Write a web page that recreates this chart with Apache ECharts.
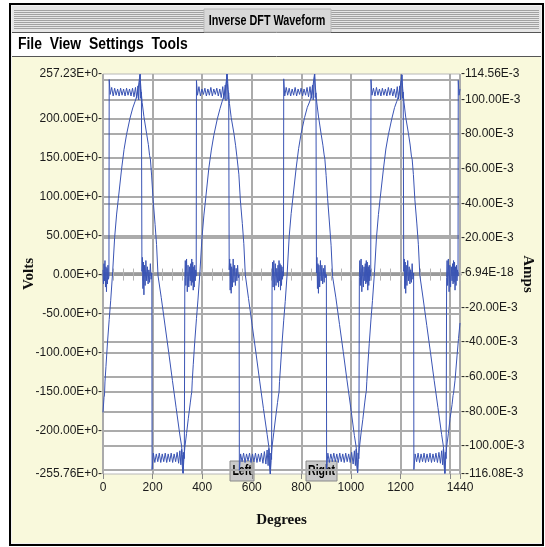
<!DOCTYPE html>
<html>
<head>
<meta charset="utf-8">
<title>Inverse DFT Waveform</title>
<script src="https://cdn.jsdelivr.net/npm/echarts@6/dist/echarts.min.js"></script>
<style>
	html,body{margin:0;padding:0;background:#fff;}
	#chart{width:545px;height:547px;}
</style>
</head>
<body>
<div id="chart"></div>
<script>
// axis ranges and tick labels
var voltsMin = -255.76, voltsMax = 257.23;
var ampsMin = -116.08, ampsMax = 114.56;   // mA
var voltsLabels = [-255.76, -200, -150, -100, -50, 0, 50, 100, 150, 200, 257.23];
var voltsGrid = [-250, -200, -150, -100, -50, 0, 50, 100, 150, 200, 250];
var ampsLabels = [-116.08, -100, -80, -60, -40, -20, 0, 20, 40, 60, 80, 100, 114.56];
var ampsGrid = [-100, -80, -60, -40, -20, 0, 20, 40, 60, 80, 100];
var degLabels = [0, 200, 400, 600, 800, 1000, 1200, 1440];
var degTicks = [0, 200, 400, 600, 800, 1000, 1200, 1400, 1440];

// voltage trace [degrees, volts], one array per cycle
var volts1 = [[0,6],[2,-12],[4,14],[6,-8],[8,18],[10,-16],[12,10],[14,-22],[16,8],[18,-12],[20,12],[22,-6],[24,-2],[25,250],[29,231],[35,240],[41,229],[47,239],[53,230],[59,238],[65,229],[71,239],[77,230],[83,238],[89,229],[95,239],[101,230],[107,238],[113,229],[119,239],[125,228],[131,240],[136,226],[141,242],[144,224],[147,246],[150,257],[152,226],[155,234],[157,4],[159,22],[161,-18],[163,16],[165,-26],[167,12],[170,-14],[173,18],[176,-8],[179,10],[182,-12],[185,6],[188,-10],[191,14],[194,-6],[197,2],[198,-250],[203,-229],[209,-241],[215,-230],[221,-240],[227,-229],[233,-241],[239,-230],[245,-240],[251,-229],[257,-241],[263,-230],[269,-240],[275,-229],[281,-241],[287,-230],[293,-240],[299,-228],[305,-242],[310,-226],[314,-244],[317,-224],[320,-246],[323,-255],[325,-228],[328,-236],[330,-4],[332,18],[334,-14],[337,20],[340,-22],[343,12],[346,-16],[349,10]];
var volts2 = [[352,-8],[354,14],[356,-14],[358,20],[360,-10],[362,16],[364,-20],[366,10],[368,-16],[370,12],[372,-8],[374,6],[376,-2],[377,249],[381,230],[387,241],[393,229],[399,238],[405,231],[411,239],[417,229],[423,238],[429,230],[435,240],[441,229],[447,238],[453,231],[459,239],[465,229],[471,238],[477,227],[483,241],[488,225],[493,243],[496,223],[499,257],[502,245],[504,225],[507,233],[509,6],[511,20],[513,-20],[515,14],[517,-24],[519,10],[522,-16],[525,20],[528,-10],[531,12],[534,-14],[537,8],[540,-8],[543,12],[546,-4],[549,0],[550,-251],[555,-230],[561,-240],[567,-229],[573,-241],[579,-230],[585,-239],[591,-229],[597,-241],[603,-230],[609,-240],[615,-229],[621,-241],[627,-230],[633,-240],[639,-229],[645,-242],[651,-227],[657,-243],[662,-225],[666,-245],[669,-223],[672,-247],[675,-255.76],[677,-229],[680,-237],[682,-6],[684,16],[686,-16],[689,18],[692,-20],[695,14],[698,-14],[701,8]];
var volts3 = [[704,-10],[706,12],[708,-16],[710,18],[712,-8],[714,14],[716,-20],[718,12],[720,-14],[722,10],[724,-6],[726,4],[728,-2],[729,251],[733,229],[739,240],[745,230],[751,239],[757,229],[763,238],[769,230],[775,240],[781,229],[787,238],[793,231],[799,239],[805,229],[811,238],[817,230],[823,240],[829,228],[835,241],[840,226],[845,243],[848,224],[851,247],[854,257.23],[856,227],[859,233],[861,2],[863,22],[865,-18],[867,14],[869,-24],[871,12],[874,-16],[877,18],[880,-8],[883,12],[886,-12],[889,8],[892,-10],[895,12],[898,-4],[901,0],[902,-249],[907,-229],[913,-241],[919,-230],[925,-240],[931,-229],[937,-240],[943,-230],[949,-241],[955,-229],[961,-240],[967,-230],[973,-241],[979,-229],[985,-240],[991,-230],[997,-241],[1003,-228],[1009,-243],[1014,-226],[1018,-245],[1021,-224],[1024,-247],[1027,-254],[1029,-229],[1032,-236],[1034,-4],[1036,18],[1038,-14],[1041,20],[1044,-22],[1047,12],[1050,-16],[1053,10]];
var volts4 = [[1056,-8],[1058,14],[1060,-12],[1062,18],[1064,-10],[1066,16],[1068,-20],[1070,10],[1072,-14],[1074,12],[1076,-8],[1078,6],[1080,-2],[1081,250],[1085,230],[1091,239],[1097,229],[1103,240],[1109,230],[1115,238],[1121,229],[1127,239],[1133,230],[1139,238],[1145,229],[1151,240],[1157,230],[1163,239],[1169,229],[1175,238],[1181,227],[1187,241],[1192,225],[1197,242],[1200,224],[1203,246],[1206,256],[1208,226],[1211,234],[1213,4],[1215,20],[1217,-18],[1219,16],[1221,-24],[1223,12],[1226,-14],[1229,18],[1232,-8],[1235,10],[1238,-12],[1241,6],[1244,-10],[1247,14],[1250,-6],[1253,2],[1254,-250],[1259,-230],[1265,-240],[1271,-229],[1277,-241],[1283,-230],[1289,-240],[1295,-229],[1301,-241],[1307,-230],[1313,-240],[1319,-229],[1325,-241],[1331,-230],[1337,-240],[1343,-229],[1349,-241],[1355,-228],[1361,-242],[1366,-226],[1370,-244],[1373,-224],[1376,-246],[1379,-255],[1381,-228],[1384,-236],[1386,-4],[1388,18],[1390,-14],[1393,20],[1396,-22],[1399,12],[1402,-16],[1405,10]];
var voltsTail = [[1408,-8],[1410,14],[1412,-12],[1414,18],[1416,-10],[1418,16],[1420,-20],[1422,10],[1424,-14],[1426,12],[1428,-8],[1430,6],[1432,-2],[1433,249],[1436,230],[1440,238]];

// current trace [degrees, mA], one array per cycle
var amps1 = [[0,-80.5],[4,-72.0],[6,-70.5],[8,-63.0],[12,-54.0],[18,-40.5],[25,-27.0],[31,-16.2],[39,0.5],[47,20.3],[55,33.8],[62,42.8],[75,59.9],[85,71.1],[95,79.7],[109,89.1],[120,95.0],[129,98.6],[136,101.7],[142,106.2],[149,114.3],[153,106.2],[158,98.1],[165,90.0],[176,80.1],[183,73.8],[188,67.5],[191,65.7],[196,56.3],[202,42.3],[210,27.9],[216,16.2],[222,-1.8],[235,-14.4],[250,-30.2],[265,-45.9],[280,-62.1],[295,-77.9],[310,-93.6],[317,-99.9],[320,-104.9],[323,-115.5],[326,-108.0],[330,-100.8],[337,-92.7],[344,-84.2]];
var amps2 = [[352,-75.1],[356,-70.6],[358,-68.9],[360,-62.4],[364,-53.1],[370,-40.0],[377,-26.5],[383,-15.8],[391,0.3],[399,19.6],[407,33.2],[414,42.5],[427,60.4],[437,70.7],[447,79.2],[461,88.6],[472,94.6],[481,98.9],[488,102.1],[494,106.8],[501,114.56],[505,105.8],[510,97.6],[517,89.5],[528,80.4],[535,73.2],[540,67.0],[543,65.9],[548,56.8],[554,41.9],[562,28.3],[568,16.7],[574,-1.2],[587,-14.9],[602,-30.6],[617,-46.3],[632,-62.5],[647,-78.2],[662,-93.2],[669,-100.4],[672,-105.3],[675,-116.08],[678,-108.4],[682,-100.2],[689,-92.1],[696,-83.8]];
var amps3 = [[704,-74.8],[708,-70.5],[710,-69.0],[712,-62.7],[716,-54.4],[722,-41.0],[729,-27.4],[735,-16.6],[743,-0.2],[751,20.8],[759,34.1],[766,43.2],[779,60.2],[789,71.5],[799,80.1],[813,89.4],[824,95.3],[833,98.4],[840,101.3],[846,106.6],[853,114.4],[857,106.5],[862,98.4],[869,90.3],[880,79.8],[887,73.5],[892,67.9],[895,65.4],[900,56.0],[906,42.7],[914,27.5],[920,15.8],[926,-2.2],[939,-14.1],[954,-29.8],[969,-45.5],[984,-61.8],[999,-77.5],[1014,-93.9],[1021,-100.3],[1024,-104.6],[1027,-115.2],[1030,-107.7],[1034,-101.2],[1041,-92.4],[1048,-84.6]];
var amps4 = [[1056,-74.6],[1060,-70.0],[1062,-68.6],[1064,-62.9],[1068,-53.8],[1074,-40.8],[1081,-26.8],[1087,-16.0],[1095,0.1],[1103,20.0],[1111,33.5],[1118,42.9],[1131,59.6],[1141,71.3],[1151,79.5],[1165,88.8],[1176,95.2],[1185,98.8],[1192,101.9],[1198,106.0],[1205,114.2],[1209,106.0],[1214,98.3],[1221,89.7],[1232,80.3],[1239,73.6],[1244,67.2],[1247,65.5],[1252,56.6],[1258,42.0],[1266,28.1],[1272,16.4],[1278,-1.5],[1291,-14.6],[1306,-30.4],[1321,-46.1],[1336,-62.3],[1351,-77.7],[1366,-93.4],[1373,-100.1],[1376,-105.1],[1379,-115.7],[1382,-108.2],[1386,-100.5],[1393,-92.9],[1400,-84.0]];
var ampsTail = [[1408,-76.0],[1412,-70.8],[1414,-69.5],[1420,-62.0],[1428,-48.0],[1434,-38.0],[1440,-29.0]];

var sans = "'Liberation Sans',Arial,sans-serif";
var serif = "'Liberation Serif','DejaVu Serif',serif";
var waveColor = '#3a54b4';
var gridColor = '#ababab';

var chart = echarts.init(document.getElementById('chart'), null, {renderer: 'canvas'});

// narrow text: the old UI font is condensed, so squeeze it sideways
function narrowText(x, y, text, font, align, sx) {
	return {type: 'text', x: x, y: y, scaleX: sx, style: {x: 0, y: 0, text: text, font: font, fill: '#000', align: align, verticalAlign: 'middle'}};
}

// window frame, title bar and menu bar
var chrome = [
	{type: 'rect', z: -10, shape: {x: 10, y: 4, width: 533, height: 541}, style: {fill: '#f2f2f2', stroke: '#000', lineWidth: 2}},
	{type: 'rect', z: -9, shape: {x: 12, y: 6, width: 529, height: 26}, style: {fill: '#e6e6e6'}},
	{type: 'rect', z: -9, shape: {x: 12, y: 33, width: 529, height: 23}, style: {fill: '#fff'}},
	{type: 'line', z: -8, shape: {x1: 12, y1: 32.5, x2: 541, y2: 32.5}, style: {stroke: '#555', lineWidth: 1}},
	{type: 'line', z: -8, shape: {x1: 12, y1: 56.5, x2: 541, y2: 56.5}, style: {stroke: '#555', lineWidth: 1}},
	{type: 'rect', z: -9, shape: {x: 12, y: 57, width: 529, height: 486}, style: {fill: '#f9f9dc'}}
];
for (var sy = 10; sy <= 29; sy += 2) {
	chrome.push({type: 'line', z: -8, shape: {x1: 14, y1: sy + 0.5, x2: 539, y2: sy + 0.5}, style: {stroke: '#a2a2a2', lineWidth: 1}});
}
chrome.push({type: 'rect', z: -7, shape: {x: 204, y: 9, width: 127, height: 23}, style: {fill: '#d8d8d8', stroke: '#bbb', lineWidth: 1}});
var title = narrowText(267, 21, 'Inverse DFT Waveform', 'bold 15px ' + sans, 'center', 0.72);
title.z = -6;
chrome.push(title);
var menu = narrowText(18, 45, 'File  View  Settings  Tools', 'bold 16px ' + sans, 'left', 0.87);
menu.z = -6;
chrome.push(menu);

// cursor buttons
function button(x, w, label) {
	return {type: 'group', z: 100, children: [
		{type: 'rect', shape: {x: x, y: 461, width: w, height: 20}, style: {fill: '#c9c9c9', stroke: '#8a8a8a', lineWidth: 1}},
		narrowText(x + w / 2, 471, label, 'bold 15px ' + sans, 'center', 0.7)
	]};
}
chrome.push(button(230, 24, 'Left'));
chrome.push(button(306, 31, 'Right'));

function fmtVolts(v) {
	return v.toFixed(2) + 'E+0-';
}
function fmtAmps(v) {
	if (v === 0) return '-6.94E-18';
	return '-' + v.toFixed(2) + 'E-3';
}
function fmtDeg(v) {
	return String(v);
}

var tickFont = {fontFamily: sans, fontSize: 12, color: '#1a1a1a'};
var nameFont = {fontFamily: serif, fontWeight: 'bold', fontSize: 15, color: '#111'};
var plot = {left: 103, right: 85, top: 74, bottom: 73};

// the zero line with its small ticks, one side per grid
function zeroAxis(grid, inside) {
	return {
		type: 'value', gridIndex: grid, min: 0, max: 1440, interval: 40, position: 'bottom',
		axisLine: {show: true, onZero: true, lineStyle: {color: '#9a9a9a', width: 3}},
		axisTick: {show: true, inside: inside, length: 6, lineStyle: {color: '#b4b4b4', width: 1}},
		axisLabel: {show: false},
		splitLine: {show: false}
	};
}

chart.setOption({
	backgroundColor: '#fff',
	animation: false,
	graphic: {elements: chrome},
	grid: [
		{left: plot.left, right: plot.right, top: plot.top, bottom: plot.bottom, show: true, backgroundColor: '#fff', borderColor: '#b8b8b8', borderWidth: 1},
		{left: plot.left, right: plot.right, top: plot.top, bottom: plot.bottom},
		{left: plot.left, right: plot.right, top: plot.top, bottom: plot.bottom}
	],
	xAxis: [
		{
			type: 'value', gridIndex: 0, min: 0, max: 1440, position: 'bottom',
			name: 'Degrees', nameLocation: 'middle', nameGap: 39, nameMoveOverlap: false,
			nameTextStyle: nameFont,
			axisLine: {show: false, onZero: false},
			axisTick: {show: true, length: 5, customValues: degTicks, lineStyle: {color: '#888'}},
			axisLabel: Object.assign({customValues: degLabels, formatter: fmtDeg, margin: 8}, tickFont),
			splitLine: {show: true, lineStyle: {color: gridColor, width: 2}}
		},
		zeroAxis(1, false),
		zeroAxis(2, true)
	],
	yAxis: [
		{
			type: 'value', gridIndex: 0, min: voltsMin, max: voltsMax, position: 'left',
			name: 'Volts', nameLocation: 'middle', nameGap: 66, nameRotate: 90, nameMoveOverlap: false,
			nameTextStyle: nameFont,
			axisLine: {show: false},
			axisTick: {show: false, customValues: voltsGrid},
			axisLabel: Object.assign({customValues: voltsLabels, formatter: fmtVolts, margin: 1}, tickFont),
			splitLine: {show: true, lineStyle: {color: gridColor, width: 2}}
		},
		{
			type: 'value', gridIndex: 0, min: ampsMin, max: ampsMax, position: 'right',
			name: 'Amps', nameLocation: 'middle', nameGap: 60, nameRotate: -90, nameMoveOverlap: false,
			nameTextStyle: nameFont,
			axisLine: {show: false},
			axisTick: {show: false, customValues: ampsGrid},
			axisLabel: Object.assign({customValues: ampsLabels, formatter: fmtAmps, margin: 1}, tickFont),
			splitLine: {show: true, lineStyle: {color: gridColor, width: 2}}
		},
		{type: 'value', gridIndex: 1, min: voltsMin, max: voltsMax, show: false},
		{type: 'value', gridIndex: 2, min: voltsMin, max: voltsMax, show: false}
	],
	series: [
		{type: 'line', name: 'Volts', xAxisIndex: 0, yAxisIndex: 0, showSymbol: false, z: 5,
			lineStyle: {color: waveColor, width: 1},
			data: [].concat(volts1, volts2, volts3, volts4, voltsTail)},
		{type: 'line', name: 'Amps', xAxisIndex: 0, yAxisIndex: 1, showSymbol: false, z: 5,
			lineStyle: {color: waveColor, width: 1},
			data: [].concat(amps1, amps2, amps3, amps4, ampsTail)}
	]
});
</script>
</body>
</html>
